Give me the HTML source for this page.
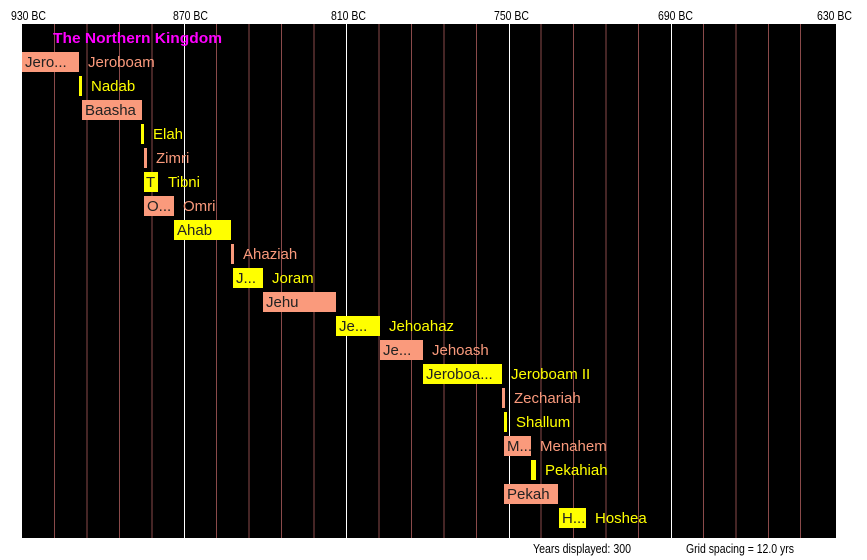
<!DOCTYPE html>
<html><head><meta charset="utf-8"><style>
html,body{margin:0;padding:0;background:#fff;}
svg{display:block;font-family:"Liberation Sans",sans-serif;}
</style></head><body>
<svg width="867" height="560" xmlns="http://www.w3.org/2000/svg">
<rect x="0" y="0" width="867" height="560" fill="#fff"/>
<rect x="22" y="24" width="814" height="514" fill="#000"/>
<g stroke="#8a4a4a" stroke-width="1">
<line x1="54.5" y1="24" x2="54.5" y2="538"/><line x1="87" y1="24" x2="87" y2="538"/><line x1="119.5" y1="24" x2="119.5" y2="538"/><line x1="152" y1="24" x2="152" y2="538"/>
<line x1="216.5" y1="24" x2="216.5" y2="538"/><line x1="249" y1="24" x2="249" y2="538"/><line x1="281.5" y1="24" x2="281.5" y2="538"/><line x1="314" y1="24" x2="314" y2="538"/>
<line x1="379" y1="24" x2="379" y2="538"/><line x1="411.5" y1="24" x2="411.5" y2="538"/><line x1="444" y1="24" x2="444" y2="538"/><line x1="476.5" y1="24" x2="476.5" y2="538"/>
<line x1="541" y1="24" x2="541" y2="538"/><line x1="573.5" y1="24" x2="573.5" y2="538"/><line x1="606" y1="24" x2="606" y2="538"/><line x1="638.5" y1="24" x2="638.5" y2="538"/>
<line x1="703.5" y1="24" x2="703.5" y2="538"/><line x1="736" y1="24" x2="736" y2="538"/><line x1="768.5" y1="24" x2="768.5" y2="538"/><line x1="800.5" y1="24" x2="800.5" y2="538"/>
</g>
<g stroke="#fff" stroke-width="1">
<line x1="184.5" y1="24" x2="184.5" y2="538"/><line x1="346.5" y1="24" x2="346.5" y2="538"/><line x1="509.5" y1="24" x2="509.5" y2="538"/><line x1="671.5" y1="24" x2="671.5" y2="538"/>
</g>
<g font-size="13" fill="#000">
<text x="11" y="20" textLength="35" lengthAdjust="spacingAndGlyphs">930 BC</text><text x="173" y="20" textLength="35" lengthAdjust="spacingAndGlyphs">870 BC</text><text x="331" y="20" textLength="35" lengthAdjust="spacingAndGlyphs">810 BC</text><text x="494" y="20" textLength="35" lengthAdjust="spacingAndGlyphs">750 BC</text><text x="658" y="20" textLength="35" lengthAdjust="spacingAndGlyphs">690 BC</text><text x="817" y="20" textLength="35" lengthAdjust="spacingAndGlyphs">630 BC</text>
</g>
<text x="53" y="43" font-size="15" font-weight="bold" fill="#ff00ff" textLength="169" lengthAdjust="spacingAndGlyphs">The Northern Kingdom</text>
<g font-size="15">
<rect x="22" y="52" width="57" height="20" fill="#fa9a7c"/><text x="25" y="67" fill="#222">Jero...</text><text x="88" y="67" fill="#fa9a7c">Jeroboam</text>
<rect x="79" y="76" width="3" height="20" fill="#ffff00"/><text x="91" y="91" fill="#ffff00">Nadab</text>
<rect x="82" y="100" width="60" height="20" fill="#fa9a7c"/><text x="85" y="115" fill="#222">Baasha</text>
<rect x="141" y="124" width="3" height="20" fill="#ffff00"/><text x="153" y="139" fill="#ffff00">Elah</text>
<rect x="144" y="148" width="3" height="20" fill="#fa9a7c"/><text x="156" y="163" fill="#fa9a7c">Zimri</text>
<rect x="144" y="172" width="14" height="20" fill="#ffff00"/><text x="146" y="187" fill="#222">T</text><text x="168" y="187" fill="#ffff00">Tibni</text>
<rect x="144" y="196" width="30" height="20" fill="#fa9a7c"/><text x="147" y="211" fill="#222">O...</text><text x="183" y="211" fill="#fa9a7c">Omri</text>
<rect x="174" y="220" width="57" height="20" fill="#ffff00"/><text x="177" y="235" fill="#222">Ahab</text>
<rect x="231" y="244" width="3" height="20" fill="#fa9a7c"/><text x="243" y="259" fill="#fa9a7c">Ahaziah</text>
<rect x="233" y="268" width="30" height="20" fill="#ffff00"/><text x="236" y="283" fill="#222">J...</text><text x="272" y="283" fill="#ffff00">Joram</text>
<rect x="263" y="292" width="73" height="20" fill="#fa9a7c"/><text x="266" y="307" fill="#222">Jehu</text>
<rect x="336" y="316" width="44" height="20" fill="#ffff00"/><text x="339" y="331" fill="#222">Je...</text><text x="389" y="331" fill="#ffff00">Jehoahaz</text>
<rect x="380" y="340" width="43" height="20" fill="#fa9a7c"/><text x="383" y="355" fill="#222">Je...</text><text x="432" y="355" fill="#fa9a7c">Jehoash</text>
<rect x="423" y="364" width="79" height="20" fill="#ffff00"/><text x="426" y="379" fill="#222">Jeroboa...</text><text x="511" y="379" fill="#ffff00">Jeroboam II</text>
<rect x="502" y="388" width="3" height="20" fill="#fa9a7c"/><text x="514" y="403" fill="#fa9a7c">Zechariah</text>
<rect x="504" y="412" width="3" height="20" fill="#ffff00"/><text x="516" y="427" fill="#ffff00">Shallum</text>
<rect x="504" y="436" width="27" height="20" fill="#fa9a7c"/><text x="507" y="451" fill="#222">M...</text><text x="540" y="451" fill="#fa9a7c">Menahem</text>
<rect x="531" y="460" width="5" height="20" fill="#ffff00"/><text x="545" y="475" fill="#ffff00">Pekahiah</text>
<rect x="504" y="484" width="54" height="20" fill="#fa9a7c"/><text x="507" y="499" fill="#222">Pekah</text>
<rect x="559" y="508" width="27" height="20" fill="#ffff00"/><text x="562" y="523" fill="#222">H...</text><text x="595" y="523" fill="#ffff00">Hoshea</text>
</g>
<g font-size="13" fill="#000">
<text x="533" y="553" textLength="98" lengthAdjust="spacingAndGlyphs">Years displayed: 300</text>
<text x="686" y="553" textLength="108" lengthAdjust="spacingAndGlyphs">Grid spacing = 12.0 yrs</text>
</g>
</svg>
</body></html>
